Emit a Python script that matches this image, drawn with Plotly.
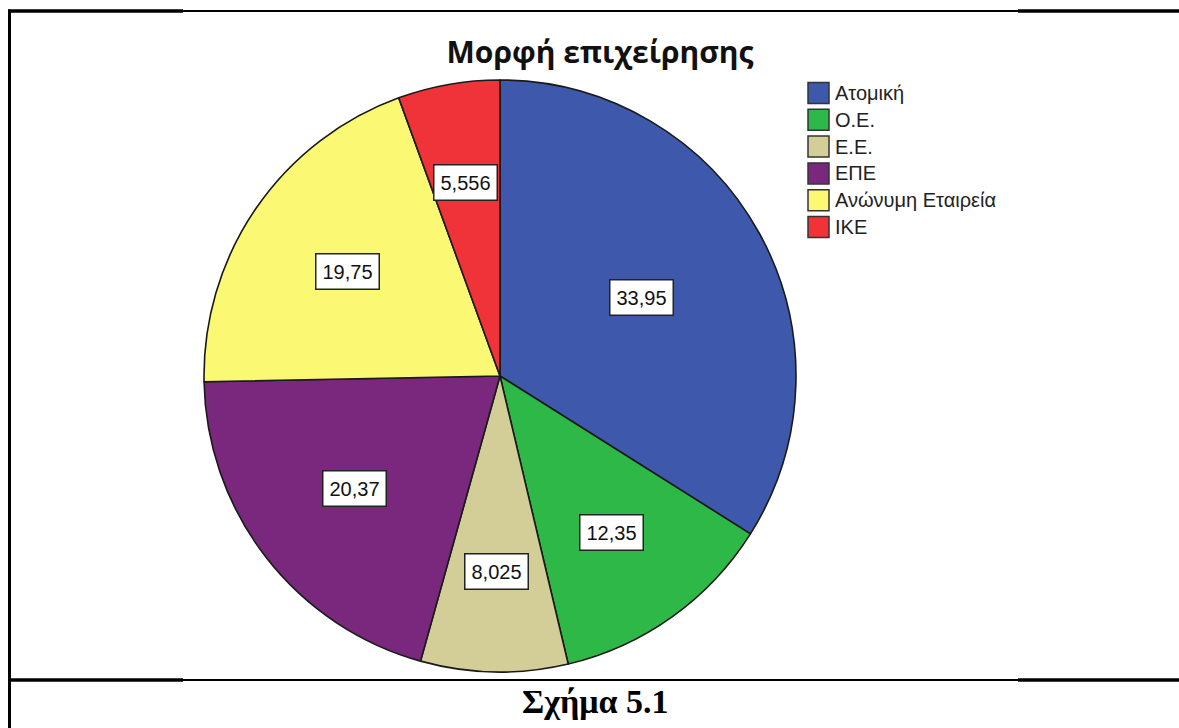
import math
import plotly.graph_objects as go

categories = ["Ατομική", "Ο.Ε.", "Ε.Ε.", "ΕΠΕ", "Ανώνυμη Εταιρεία", "ΙΚΕ"]
values = [33.95, 12.35, 8.025, 20.37, 19.75, 5.556]
colors = ["#3E58AC", "#2EB848", "#D3CE97", "#7A287E", "#FBF873", "#EF3338"]

W, H = 1179, 728
# pie placement (pixels)
pcx, pcy, pr = 500, 376, 296
dom_x = [(pcx - pr) / W, (pcx + pr) / W]
dom_y = [1 - (pcy + pr) / H, 1 - (pcy - pr) / H]

fig = go.Figure()
fig.add_trace(go.Pie(
    labels=categories, values=values, sort=False, direction="clockwise",
    rotation=0, marker=dict(colors=colors, line=dict(color="#1a1a1a", width=1.6)),
    textinfo="none", hoverinfo="label+value", domain=dict(x=dom_x, y=dom_y),
    showlegend=False,
))

def px2x(p):
    return p / W

def px2y(p):
    return 1 - p / H

# value labels in boxes, placed at each slice's centroid (derived from data)
total = sum(values)
cum = 0.0
ann = []
for v in values:
    alpha = v / total * 2 * math.pi
    mid = (cum + v / 2) / total * 2 * math.pi
    cum += v
    d = 4 * pr * math.sin(alpha / 2) / (3 * alpha)
    lx = pcx + d * math.sin(mid)
    ly = pcy - d * math.cos(mid)
    ann.append(dict(
        x=px2x(lx), y=px2y(ly), xref="paper", yref="paper", showarrow=False,
        xanchor="center", yanchor="middle",
        text=f"{v:g}".replace(".", ","),
        font=dict(family="Liberation Sans, Arial", size=20, color="#111"),
        bgcolor="white", bordercolor="#222", borderwidth=1.5, borderpad=6,
    ))

shapes = []
# custom legend (large swatches like the original)
leg_x, leg_y, leg_step, sw = 808, 93, 26.8, 21
for i, (c, lab) in enumerate(zip(colors, categories)):
    cy = leg_y + i * leg_step
    shapes.append(dict(type="rect", xref="paper", yref="paper",
                       x0=px2x(leg_x), x1=px2x(leg_x + sw),
                       y0=px2y(cy + sw / 2), y1=px2y(cy - sw / 2),
                       fillcolor=c, line=dict(color="#333", width=1.5)))
    ann.append(dict(x=px2x(leg_x + sw + 4), y=px2y(cy), xref="paper", yref="paper",
                    xanchor="left", yanchor="middle", showarrow=False, text=lab,
                    font=dict(family="Liberation Sans, Arial", size=20, color="#222")))

ann.append(dict(
    x=px2x(595), y=px2y(701), xref="paper", yref="paper", showarrow=False,
    xanchor="center", yanchor="middle",
    text="<b>Σχήμα 5.1</b>",
    font=dict(family="Liberation Serif, Times New Roman", size=34, color="black"),
))

def hline(y, x0, x1, w):
    return dict(type="line", xref="paper", yref="paper", x0=px2x(x0), x1=px2x(x1),
                y0=px2y(y), y1=px2y(y), line=dict(color="black", width=w))

shapes += [
    hline(11, 8, 1179, 2), hline(11, 8, 183, 3.5), hline(11, 1018, 1179, 3.5),
    hline(680, 8, 1179, 2), hline(680, 8, 183, 3.5), hline(680, 1018, 1179, 3.5),
    dict(type="line", xref="paper", yref="paper", x0=px2x(9.5), x1=px2x(9.5),
         y0=0, y1=px2y(9.5), line=dict(color="black", width=3)),
]

fig.update_layout(
    width=W, height=H, margin=dict(l=0, r=0, t=0, b=0),
    paper_bgcolor="white", plot_bgcolor="white", showlegend=False,
    title=dict(text="Μορφή επιχείρησης", x=px2x(600), xanchor="center",
               y=px2y(52), yanchor="middle",
               font=dict(family="Open Sans", size=30, color="#111", weight="bold")),
    annotations=ann, shapes=shapes,
)

fig.write_html("out.html", config={"displayModeBar": False},
               post_script="document.body.style.margin='0';document.body.style.padding='0';")
